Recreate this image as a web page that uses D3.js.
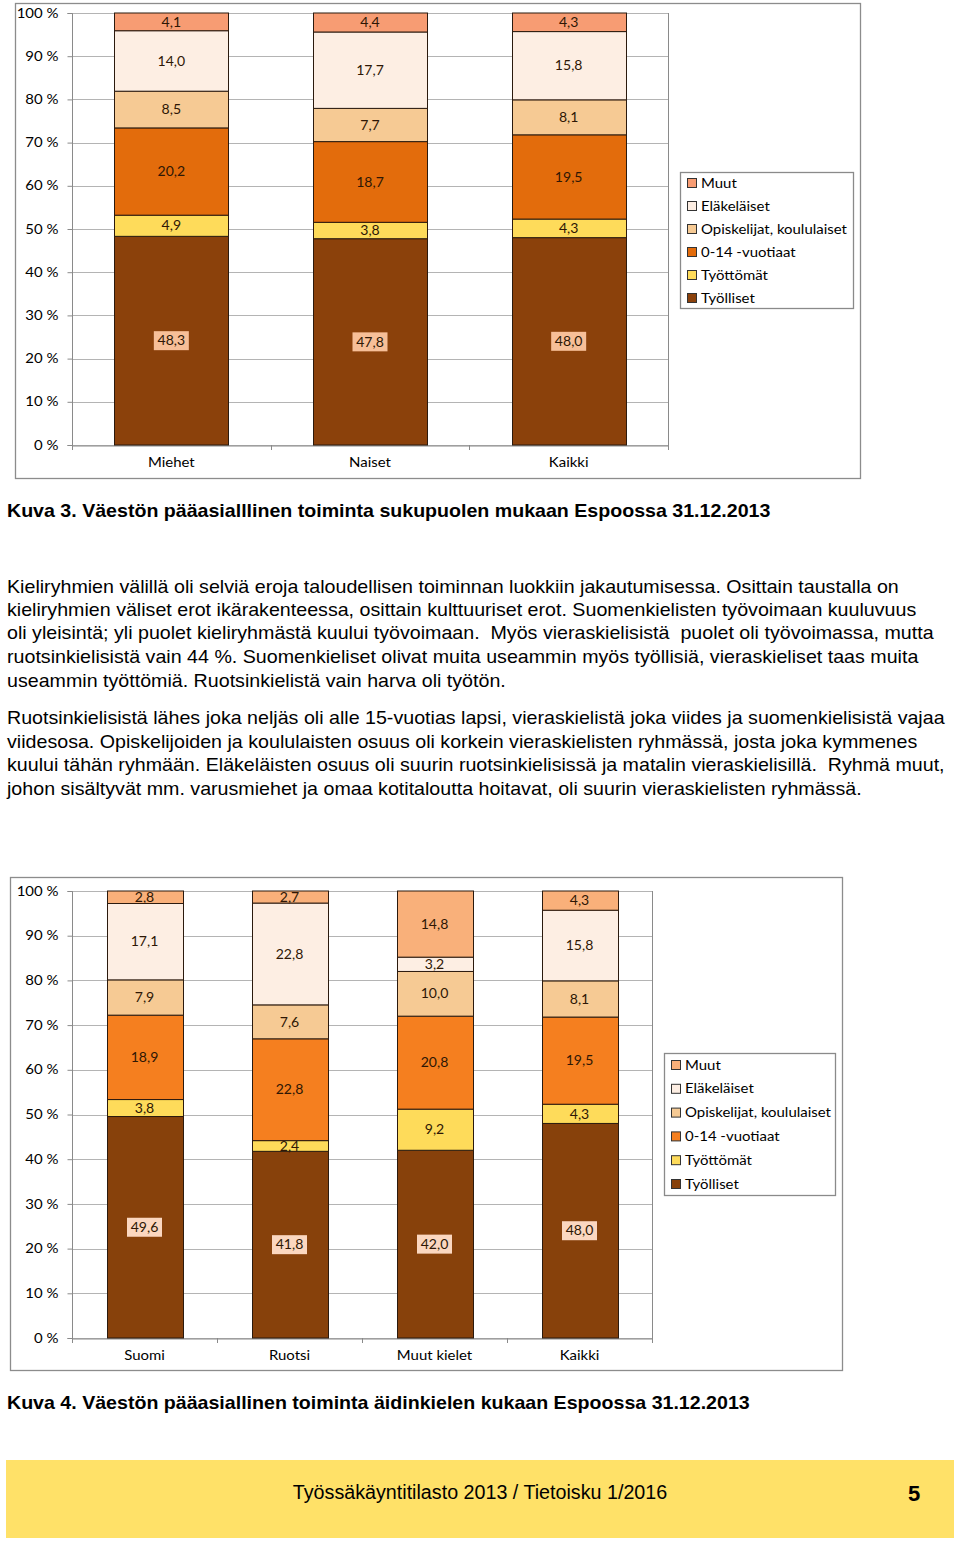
<!DOCTYPE html>
<html><head><meta charset="utf-8">
<script src="https://cdn.jsdelivr.net/npm/d3@7"></script>
<style>
html,body{margin:0;padding:0;background:#fff;}
svg{display:block;}
</style></head>
<body>
<svg id="page" width="960" height="1541"></svg>
<script>
// ---------- DATA ----------
const seriesNames = ["Työlliset", "Työttömät", "0-14 -vuotiaat", "Opiskelijat, koululaiset", "Eläkeläiset", "Muut"];
const yTicks = [0, 10, 20, 30, 40, 50, 60, 70, 80, 90, 100];

// Chart 1 (Kuva 3)
const categories1 = ["Miehet", "Naiset", "Kaikki"];
const tyolliset1 = [48.3, 47.8, 48.0];
const tyottomat1 = [4.9, 3.8, 4.3];
const lapset1 = [20.2, 18.7, 19.5];
const opiskelijat1 = [8.5, 7.7, 8.1];
const elakelaiset1 = [14.0, 17.7, 15.8];
const muut1 = [4.1, 4.4, 4.3];

// Chart 2 (Kuva 4)
const categories2 = ["Suomi", "Ruotsi", "Muut kielet", "Kaikki"];
const tyolliset2 = [49.6, 41.8, 42.0, 48.0];
const tyottomat2 = [3.8, 2.4, 9.2, 4.3];
const lapset2 = [18.9, 22.8, 20.8, 19.5];
const opiskelijat2 = [7.9, 7.6, 10.0, 8.1];
const elakelaiset2 = [17.1, 22.8, 3.2, 15.8];
const muut2 = [2.8, 2.7, 14.8, 4.3];

// Texts
const title1 = "Kuva 3. Väestön pääasialllinen toiminta sukupuolen mukaan Espoossa 31.12.2013";
const title2 = "Kuva 4. Väestön pääasiallinen toiminta äidinkielen kukaan Espoossa 31.12.2013";
const paragraph1 = [
  "Kieliryhmien välillä oli selviä eroja taloudellisen toiminnan luokkiin jakautumisessa. Osittain taustalla on",
  "kieliryhmien väliset erot ikärakenteessa, osittain kulttuuriset erot. Suomenkielisten työvoimaan kuuluvuus",
  "oli yleisintä; yli puolet kieliryhmästä kuului työvoimaan.  Myös vieraskielisistä  puolet oli työvoimassa, mutta",
  "ruotsinkielisistä vain 44 %. Suomenkieliset olivat muita useammin myös työllisiä, vieraskieliset taas muita",
  "useammin työttömiä. Ruotsinkielistä vain harva oli työtön."
];
const paragraph2 = [
  "Ruotsinkielisistä lähes joka neljäs oli alle 15-vuotias lapsi, vieraskielistä joka viides ja suomenkielisistä vajaa",
  "viidesosa. Opiskelijoiden ja koululaisten osuus oli korkein vieraskielisten ryhmässä, josta joka kymmenes",
  "kuului tähän ryhmään. Eläkeläisten osuus oli suurin ruotsinkielisissä ja matalin vieraskielisillä.  Ryhmä muut,",
  "johon sisältyvät mm. varusmiehet ja omaa kotitaloutta hoitavat, oli suurin vieraskielisten ryhmässä."
];
const footerText = "Työssäkäyntitilasto 2013 / Tietoisku 1/2016";
const pageNumber = "5";

// ---------- BUILD TABLES ----------
function buildRows(cats, arrs) {
  return cats.map((c, i) => {
    const row = {category: c};
    seriesNames.forEach((s, k) => row[s] = arrs[k][i]);
    return row;
  });
}
const rows1 = buildRows(categories1, [tyolliset1, tyottomat1, lapset1, opiskelijat1, elakelaiset1, muut1]);
const rows2 = buildRows(categories2, [tyolliset2, tyottomat2, lapset2, opiskelijat2, elakelaiset2, muut2]);

const svg = d3.select("#page");
const chartFont = "Lato, 'Open Sans', sans-serif";
const textFont = "'Liberation Sans', Arial, sans-serif";
const CHART_SX = 1.15;

function fmt(v) { return v.toFixed(1).replace(".", ","); }

// horizontally stretch text elements (source image is slightly wide)
function stretch(sel, sx) {
  sel.each(function () {
    const t = d3.select(this);
    const x = +t.attr("x") || 0, y = +t.attr("y") || 0;
    t.attr("x", 0).attr("y", 0).attr("transform", `translate(${x},${y}) scale(${sx},1)`);
  });
}

function drawChart(cfg) {
  const g = svg.append("g");
  g.append("rect").attr("x", cfg.frame[0] + 0.5).attr("y", cfg.frame[1] + 0.5)
    .attr("width", cfg.frame[2]).attr("height", cfg.frame[3])
    .attr("fill", "#fff").attr("stroke", "#8c8c8c").attr("stroke-width", 1.3);

  const x = d3.scaleBand().domain(cfg.rows.map(d => d.category))
    .range([cfg.plot.x0, cfg.plot.x1]).paddingInner(cfg.pad).paddingOuter(cfg.pad / 2);
  const y = d3.scaleLinear().domain([0, 100]).range([cfg.plot.yBot, cfg.plot.yTop]);

  g.append("g").selectAll("line").data(yTicks).join("line")
    .attr("x1", cfg.plot.x0).attr("x2", cfg.plot.x1)
    .attr("y1", d => Math.round(y(d)) + 0.5).attr("y2", d => Math.round(y(d)) + 0.5)
    .attr("stroke", "#b4b4b4").attr("stroke-width", 1);
  g.append("line").attr("x1", cfg.plot.x1 + 0.5).attr("x2", cfg.plot.x1 + 0.5)
    .attr("y1", y(100)).attr("y2", y(0)).attr("stroke", "#8a8a8a");

  const yAxis = d3.axisLeft(y).tickValues(yTicks).tickSize(5).tickPadding(9)
    .tickFormat(d => d + " %");
  const ya = g.append("g").attr("transform", `translate(${cfg.plot.x0 + 0.5},0)`).call(yAxis);
  ya.select(".domain").attr("stroke", "#8a8a8a").attr("d", `M-5,${Math.round(y(100)) + 0.5}H0V${Math.round(y(0)) + 0.5}H-5`);
  ya.selectAll(".tick line").attr("stroke", "#8a8a8a");
  ya.selectAll(".tick text").attr("font-family", chartFont).attr("font-size", 13).attr("fill", "#000")
    .call(stretch, CHART_SX);

  const xa = g.append("g").attr("transform", `translate(0,${Math.round(y(0)) + 0.5})`)
    .call(d3.axisBottom(x).tickSize(0).tickPadding(12));
  xa.select(".domain").attr("stroke", "#8a8a8a");
  xa.selectAll(".tick text").attr("font-family", chartFont).attr("font-size", 13).attr("fill", "#000")
    .call(stretch, CHART_SX);
  const step = x.step();
  const seps = d3.range(cfg.rows.length + 1).map(i => cfg.plot.x0 + i * step);
  g.append("g").selectAll("line").data(seps).join("line")
    .attr("x1", d => Math.round(d) + 0.5).attr("x2", d => Math.round(d) + 0.5)
    .attr("y1", Math.round(y(0))).attr("y2", Math.round(y(0)) + 5)
    .attr("stroke", "#8a8a8a");

  const normRows = cfg.rows.map(r => {
    const tot = d3.sum(seriesNames, s => r[s]);
    const o = {category: r.category};
    seriesNames.forEach(s => { o[s] = r[s] / tot * 100; o["raw_" + s] = r[s]; });
    return o;
  });
  const stack = d3.stack().keys(seriesNames)(normRows);
  const layers = g.append("g").selectAll("g").data(stack).join("g")
    .attr("fill", d => cfg.colors[d.key]);
  layers.selectAll("rect").data(d => d).join("rect")
    .attr("x", p => Math.round(x(p.data.category)) + 0.5)
    .attr("width", Math.round(x.bandwidth()))
    .attr("y", p => y(p[1]))
    .attr("height", p => y(p[0]) - y(p[1]))
    .attr("stroke", "#2b1a0e").attr("stroke-width", 1);

  const lab = g.append("g");
  stack.forEach(layer => {
    layer.forEach(p => {
      const cx = x(p.data.category) + x.bandwidth() / 2;
      const cy = (y(p[0]) + y(p[1])) / 2;
      const txt = fmt(p.data["raw_" + layer.key]);
      if (layer.key === "Työlliset") {
        lab.append("rect").attr("x", cx - 17.5).attr("y", cy - 9.5)
          .attr("width", 35).attr("height", 19).attr("fill", cfg.labelBox);
      }
      lab.append("text").attr("x", cx).attr("y", cy).attr("dy", "0.36em")
        .attr("text-anchor", "middle").attr("font-family", chartFont).attr("font-size", 13)
        .attr("fill", "#2e1705").text(txt);
    });
  });
  stretch(lab.selectAll("text"), 1.08);

  const L = cfg.legend;
  g.append("rect").attr("x", L.x + 0.5).attr("y", L.y + 0.5).attr("width", L.w).attr("height", L.h)
    .attr("fill", "#fff").attr("stroke", "#8a8a8a").attr("stroke-width", 1.3);
  const items = seriesNames.slice().reverse();
  const li = g.append("g").selectAll("g").data(items).join("g")
    .attr("transform", (d, i) => `translate(${L.x + 7},${L.first + i * L.row})`);
  li.append("rect").attr("x", 0.5).attr("y", -4.5).attr("width", 9).attr("height", 9)
    .attr("fill", d => cfg.colors[d]).attr("stroke", "#333").attr("stroke-width", 1);
  li.append("text").attr("x", 14).attr("y", 0).attr("dy", "0.35em")
    .attr("font-family", chartFont).attr("font-size", 13).attr("fill", "#000").text(d => d)
    .call(stretch, CHART_SX);
}

const colors1 = {
  "Työlliset": "#8b410b", "Työttömät": "#fedb5a", "0-14 -vuotiaat": "#e36c0c",
  "Opiskelijat, koululaiset": "#f6ca94", "Eläkeläiset": "#fdeee3", "Muut": "#f79c73"
};
const colors2 = {
  "Työlliset": "#87410b", "Työttömät": "#fedb5a", "0-14 -vuotiaat": "#f57f1f",
  "Opiskelijat, koululaiset": "#f6ca94", "Eläkeläiset": "#fdeee3", "Muut": "#f9b07a"
};

drawChart({
  rows: rows1, colors: colors1, labelBox: "#f7bf98",
  frame: [15, 3, 845, 475],
  plot: {x0: 72, x1: 668, yTop: 13, yBot: 445},
  pad: 0.425,
  legend: {x: 680, y: 172, w: 173, h: 136, first: 183, row: 23}
});
drawChart({
  rows: rows2, colors: colors2, labelBox: "#fbd7c0",
  frame: [10, 877, 832, 493],
  plot: {x0: 72, x1: 652, yTop: 891, yBot: 1338},
  pad: 0.476,
  legend: {x: 664, y: 1053, w: 171, h: 142, first: 1065, row: 23.8}
});

// titles
function addText(x, y, txt, size, weight, sx, anchor) {
  const t = svg.append("text").attr("x", x).attr("y", y)
    .attr("font-family", textFont).attr("font-size", size).attr("font-weight", weight)
    .attr("fill", "#000").attr("text-anchor", anchor || "start")
    .style("white-space", "pre").text(txt);
  stretch(t, sx);
  return t;
}
addText(7, 517, title1, 18.5, "bold", 1.06);
addText(7, 1409, title2, 18.5, "bold", 1.06);

const p1y = [593, 616, 639, 663, 687];
paragraph1.forEach((t, i) => addText(7, p1y[i], t, 18, "normal", 1.092));
const p2y = [724, 748, 771, 795];
paragraph2.forEach((t, i) => addText(7, p2y[i], t, 18, "normal", 1.092));

// footer
svg.append("rect").attr("x", 6).attr("y", 1460).attr("width", 948).attr("height", 78).attr("fill", "#ffe168");
addText(480, 1499, footerText, 20, "normal", 0.985, "middle");
addText(914, 1501, pageNumber, 22, "bold", 1, "middle");
</script>
</body></html>
